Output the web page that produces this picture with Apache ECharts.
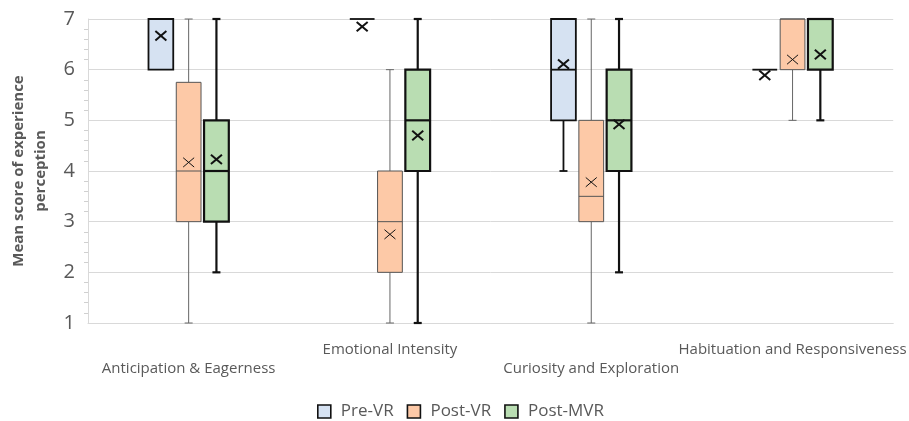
<!DOCTYPE html>
<html>
<head>
<meta charset="utf-8">
<script src="https://cdn.jsdelivr.net/npm/echarts@6/dist/echarts.min.js"></script>
<style>
  html, body { margin: 0; padding: 0; background: #fff; }
  #chart { width: 909px; height: 421px; }
</style>
</head>
<body>
<div id="chart"></div>
<script>
'use strict';

// 类别
const categories = [
    'Anticipation & Eagerness',
    'Emotional Intensity',
    'Curiosity and Exploration',
    'Habituation and Responsiveness'
];

// 每行: [最小, Q1, 中位数, Q3, 最大, 平均]
const preVR = [
    [6, 6, 7, 7, 7, 6.67],
    [7, 7, 7, 7, 7, 6.85],
    [4, 5, 6, 7, 7, 6.11],
    [6, 6, 6, 6, 6, 5.89]
];
const postVR = [
    [1, 3, 4, 5.75, 7, 4.17],
    [1, 2, 3, 4, 6, 2.75],
    [1, 3, 3.5, 5, 7, 3.78],
    [5, 6, 7, 7, 7, 6.2]
];
const postMVR = [
    [2, 3, 4, 5, 7, 4.23],
    [1, 4, 5, 6, 7, 4.7],
    [2, 4, 5, 6, 7, 4.92],
    [5, 6, 7, 7, 7, 6.3]
];

const seriesNames = ['Pre-VR', 'Post-VR', 'Post-MVR'];
const yTicks = [1, 2, 3, 4, 5, 6, 7];

// 样式 (offset / width 为类别带宽的比例)
const styles = [
    { fill: '#d6e2f2', stroke: '#111', lineWidth: 1.8, whisker: '#111', whiskerWidth: 1.8, meanWidth: 2, offset: -0.138 },
    { fill: '#fdc9a7', stroke: '#555', lineWidth: 1, whisker: '#666', whiskerWidth: 1, meanWidth: 1, offset: 0 },
    { fill: '#b9ddb2', stroke: '#111', lineWidth: 2.2, whisker: '#111', whiskerWidth: 2.2, meanWidth: 2, offset: 0.138 }
];
const boxRatio = 0.123;
const capHalf = 4;
const meanHalf = 5.5;

function renderBox(st) {
    return function (params, api) {
        const cat = api.value(0);
        const band = api.size([1, 0])[0];
        const cx = api.coord([cat, 1])[0] + st.offset * band;
        const w = boxRatio * band;
        const y = v => api.coord([cat, v])[1];
        const lo = y(api.value(1));
        const q1 = y(api.value(2));
        const med = y(api.value(3));
        const q3 = y(api.value(4));
        const hi = y(api.value(5));
        const mean = y(api.value(6));
        const wStyle = { stroke: st.whisker, lineWidth: st.whiskerWidth };
        const children = [];

        // 上须
        if (hi < q3 - 0.5) {
            children.push({ type: 'line', shape: { x1: cx, y1: q3, x2: cx, y2: hi }, style: wStyle });
            children.push({ type: 'line', shape: { x1: cx - capHalf, y1: hi, x2: cx + capHalf, y2: hi }, style: wStyle });
        }
        // 下须
        if (lo > q1 + 0.5) {
            children.push({ type: 'line', shape: { x1: cx, y1: q1, x2: cx, y2: lo }, style: wStyle });
            children.push({ type: 'line', shape: { x1: cx - capHalf, y1: lo, x2: cx + capHalf, y2: lo }, style: wStyle });
        }
        // 箱体
        if (q1 - q3 > 0.5) {
            children.push({
                type: 'rect',
                shape: { x: cx - w / 2, y: q3, width: w, height: q1 - q3 },
                style: { fill: st.fill, stroke: st.stroke, lineWidth: st.lineWidth }
            });
        }
        // 中位线
        children.push({
            type: 'line',
            shape: { x1: cx - w / 2, y1: med, x2: cx + w / 2, y2: med },
            style: { stroke: st.stroke, lineWidth: st.lineWidth }
        });
        // 平均值 X
        const mStyle = { stroke: '#111', lineWidth: st.meanWidth };
        children.push({ type: 'line', shape: { x1: cx - meanHalf, y1: mean - meanHalf * 0.85, x2: cx + meanHalf, y2: mean + meanHalf * 0.85 }, style: mStyle });
        children.push({ type: 'line', shape: { x1: cx - meanHalf, y1: mean + meanHalf * 0.85, x2: cx + meanHalf, y2: mean - meanHalf * 0.85 }, style: mStyle });

        return { type: 'group', children: children };
    };
}

const allData = [preVR, postVR, postMVR];

const chart = echarts.init(document.getElementById('chart'));

const option = {
    animation: false,
    textStyle: { fontFamily: 'Open Sans' },
    grid: { left: 88, right: 11, top: 19, bottom: 98 },
    legend: {
        left: 312,
        top: 398,
        itemWidth: 13,
        itemHeight: 13,
        itemGap: 13,
        textStyle: { fontSize: 17, color: '#595959', fontFamily: 'Open Sans', padding: [0, 0, 0, 5] },
        data: seriesNames.map((n, i) => ({
            name: n,
            icon: 'rect',
            itemStyle: { color: styles[i].fill, borderColor: '#111', borderWidth: 1.6 }
        }))
    },
    xAxis: {
        type: 'category',
        data: categories,
        axisLine: { show: true, lineStyle: { color: '#d9d9d9' } },
        axisTick: { show: false },
        axisLabel: {
            interval: 0,
            color: '#595959',
            fontSize: 15,
            lineHeight: 19,
            margin: 17,
            formatter: (v, i) => (i % 2 === 0 ? '\n' + v : v)
        }
    },
    yAxis: {
        type: 'value',
        min: yTicks[0],
        max: yTicks[yTicks.length - 1],
        interval: 1,
        name: 'Mean score of experience\nperception',
        nameLocation: 'middle',
        nameRotate: 90,
        nameGap: 36,
        nameTextStyle: { fontSize: 15, fontWeight: 'bold', color: '#595959', lineHeight: 22 },
        axisLine: { show: true, lineStyle: { color: '#d9d9d9' } },
        axisTick: { show: false },
        minorTick: { show: true, splitNumber: 5, length: 4, lineStyle: { color: '#d0d0d0' } },
        splitLine: { lineStyle: { color: '#d9d9d9' } },
        axisLabel: { color: '#595959', fontSize: 20, margin: 13 }
    },
    series: seriesNames.map((n, i) => ({
        name: n,
        type: 'custom',
        itemStyle: { color: styles[i].fill },
        encode: { x: 0, y: [1, 2, 3, 4, 5, 6] },
        data: allData[i].map((row, k) => [k].concat(row)),
        renderItem: renderBox(styles[i])
    }))
};

chart.setOption(option);
</script>
</body>
</html>
